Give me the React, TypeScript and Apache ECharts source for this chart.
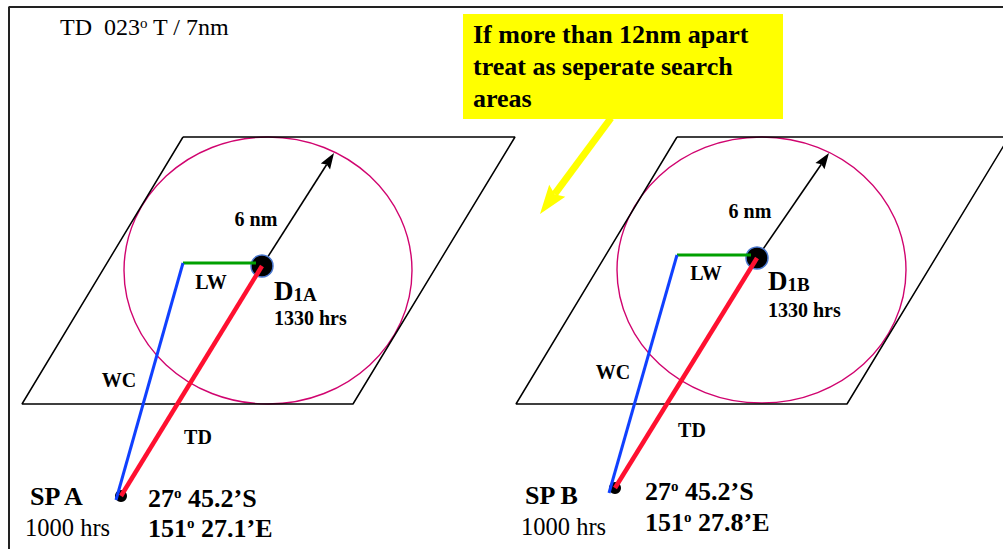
import React, { useEffect, useRef } from "react";
import * as echarts from "echarts";

// Diagram geometry in the drawing's own coordinate system (x right, y down)
const frame = [[9, 549], [9, 7], [1003, 7]];
const areaA = [[183, 137], [515, 137], [353, 404], [22, 404], [183, 137]];
const areaB = [[677, 137], [1009, 137], [847, 404], [516, 404], [677, 137]];
const circles = [[268, 270.5, 144, 133.5], [761.5, 270, 144.5, 133]];
const leewayA = [[183, 263], [256, 263]];
const leewayB = [[677, 255], [751, 255]];
const windCurrentA = [[183, 263], [116, 500]];
const windCurrentB = [[677, 255], [609, 493]];
const trackA = [[262, 266], [121, 496]];
const trackB = [[757, 258], [615, 488]];
const radii = [[262, 266, 334, 153], [757, 258, 829, 153]];
const pointer = [[611, 118, 540, 214]];
const datums = [[262, 266], [757, 258]];
const startPoints = [[121, 496], [615, 488]];

const noteLines = ["If more than 12nm apart", "treat as seperate search", "areas"];

const SERIF = '"Liberation Serif", "Times New Roman", serif';

function txt(x: number, y: number, text: string, size: number, bold: boolean, align: string = "left", rich?: any) {
  return {
    type: "text",
    z: 50,
    silent: true,
    style: {
      x,
      y,
      text,
      fill: "#000",
      fontFamily: SERIF,
      fontSize: size,
      fontWeight: bold ? "bold" : "normal",
      align,
      verticalAlign: "middle",
      rich,
    },
  };
}

const sup = (size: number, bold: boolean) => ({
  s: {
    fontFamily: SERIF,
    fontSize: size,
    fontWeight: bold ? "bold" : "normal",
    verticalAlign: "top",
    fill: "#000",
  },
});

const datumRich = {
  d: { fontFamily: SERIF, fontSize: 27, fontWeight: "bold", fill: "#000", verticalAlign: "bottom" },
  n: { fontFamily: SERIF, fontSize: 19, fontWeight: "bold", fill: "#000", verticalAlign: "bottom", padding: [0, 0, 1, 0] },
};

function arrowSeries(data: number[][], color: string, width: number, headLen: number, headW: number) {
  return {
    type: "custom",
    silent: true,
    data,
    renderItem: (params: any, api: any) => {
      const a = api.coord([api.value(0), api.value(1)]);
      const b = api.coord([api.value(2), api.value(3)]);
      const dx = b[0] - a[0];
      const dy = b[1] - a[1];
      const L = Math.sqrt(dx * dx + dy * dy) || 1;
      const ux = dx / L;
      const uy = dy / L;
      const nx = -uy;
      const ny = ux;
      const bx = b[0] - ux * headLen;
      const by = b[1] - uy * headLen;
      const kx = b[0] - ux * headLen * 0.85;
      const ky = b[1] - uy * headLen * 0.85;
      return {
        type: "group",
        children: [
          {
            type: "line",
            shape: { x1: a[0], y1: a[1], x2: kx, y2: ky },
            style: { stroke: color, lineWidth: width, fill: "none" },
          },
          {
            type: "polygon",
            shape: {
              points: [
                [b[0], b[1]],
                [bx + (nx * headW) / 2, by + (ny * headW) / 2],
                [kx, ky],
                [bx - (nx * headW) / 2, by - (ny * headW) / 2],
              ],
            },
            style: { fill: color, stroke: "none" },
          },
        ],
      };
    },
  };
}

export default function App() {
  const ref = useRef<HTMLDivElement>(null);
  useEffect(() => {
    if (!ref.current) return;
    const chart = echarts.init(ref.current, undefined, { renderer: "svg" });
    const line = (data: number[][], color: string, width: number) => ({
      type: "line",
      data,
      symbol: "none",
      showSymbol: false,
      silent: true,
      lineStyle: { color, width },
    });
    const option: any = {
      animation: false,
      backgroundColor: "#fff",
      grid: { left: 0, right: 0, top: 0, bottom: 0 },
      xAxis: { type: "value", min: 0, max: 1003, show: false },
      yAxis: { type: "value", min: 0, max: 549, inverse: true, show: false },
      series: [
        line(frame, "#222", 2),
        line(areaA, "#000", 1.5),
        line(areaB, "#000", 1.5),
        {
          type: "custom",
          silent: true,
          data: circles,
          renderItem: (params: any, api: any) => {
            const c = api.coord([api.value(0), api.value(1)]);
            const s = api.size([api.value(2), api.value(3)]);
            return {
              type: "ellipse",
              shape: { cx: c[0], cy: c[1], rx: s[0], ry: s[1] },
              style: { fill: "none", stroke: "#d0046f", lineWidth: 1.4 },
            };
          },
        },
        line(leewayA, "#00a000", 3),
        line(leewayB, "#00a000", 3),
        line(windCurrentA, "#1040ff", 3),
        line(windCurrentB, "#1040ff", 3),
        line(trackA, "#ff1030", 4.5),
        line(trackB, "#ff1030", 4.5),
        arrowSeries(radii, "#000", 1.6, 16, 11),
        arrowSeries(pointer, "#ffff00", 7, 29, 20),
        {
          type: "scatter",
          silent: true,
          data: datums,
          symbolSize: 22,
          itemStyle: { color: "#000", borderColor: "#4a78d0", borderWidth: 1.5, opacity: 1 },
        },
        {
          type: "scatter",
          silent: true,
          data: startPoints,
          symbolSize: 12,
          itemStyle: { color: "#000", opacity: 1 },
        },
      ],
      graphic: [
        { type: "rect", z: 40, silent: true, shape: { x: 463, y: 14, width: 320, height: 105 }, style: { fill: "#ffff00" } },
        ...noteLines.map((s, i) => txt(473, 34 + i * 32, s, 26, true)),
        txt(60, 27, "TD  023{s|o} T / 7nm", 24, false, "left", sup(15, false)),
        txt(256, 219, "6 nm", 20, true, "center"),
        txt(750, 211, "6 nm", 20, true, "center"),
        txt(211, 282, "LW", 20, true, "center"),
        txt(706, 273, "LW", 20, true, "center"),
        txt(274, 291, "{d|D}{n|1A}", 19, true, "left", datumRich),
        txt(768, 281, "{d|D}{n|1B}", 19, true, "left", datumRich),
        txt(274, 318, "1330 hrs", 20, true),
        txt(768, 310, "1330 hrs", 20, true),
        txt(119, 380, "WC", 20, true, "center"),
        txt(613, 372, "WC", 20, true, "center"),
        txt(198, 437, "TD", 20, true, "center"),
        txt(692, 430, "TD", 20, true, "center"),
        txt(30, 496, "SP A", 26, true),
        txt(525, 495, "SP B", 26, true),
        txt(25, 527, "1000 hrs", 24.5, false),
        txt(521, 526, "1000 hrs", 24.5, false),
        txt(148, 498, "27{s|o} 45.2’S", 26, true, "left", sup(15, true)),
        txt(148, 528, "151{s|o} 27.1’E", 26, true, "left", sup(15, true)),
        txt(645, 491, "27{s|o} 45.2’S", 26, true, "left", sup(15, true)),
        txt(645, 522, "151{s|o} 27.8’E", 26, true, "left", sup(15, true)),
      ],
    };
    chart.setOption(option);
    return () => chart.dispose();
  }, []);
  return (
    <div
      ref={ref}
      style={{ position: "fixed", left: 0, top: 0, width: 1003, height: 549, background: "#fff" }}
    />
  );
}
